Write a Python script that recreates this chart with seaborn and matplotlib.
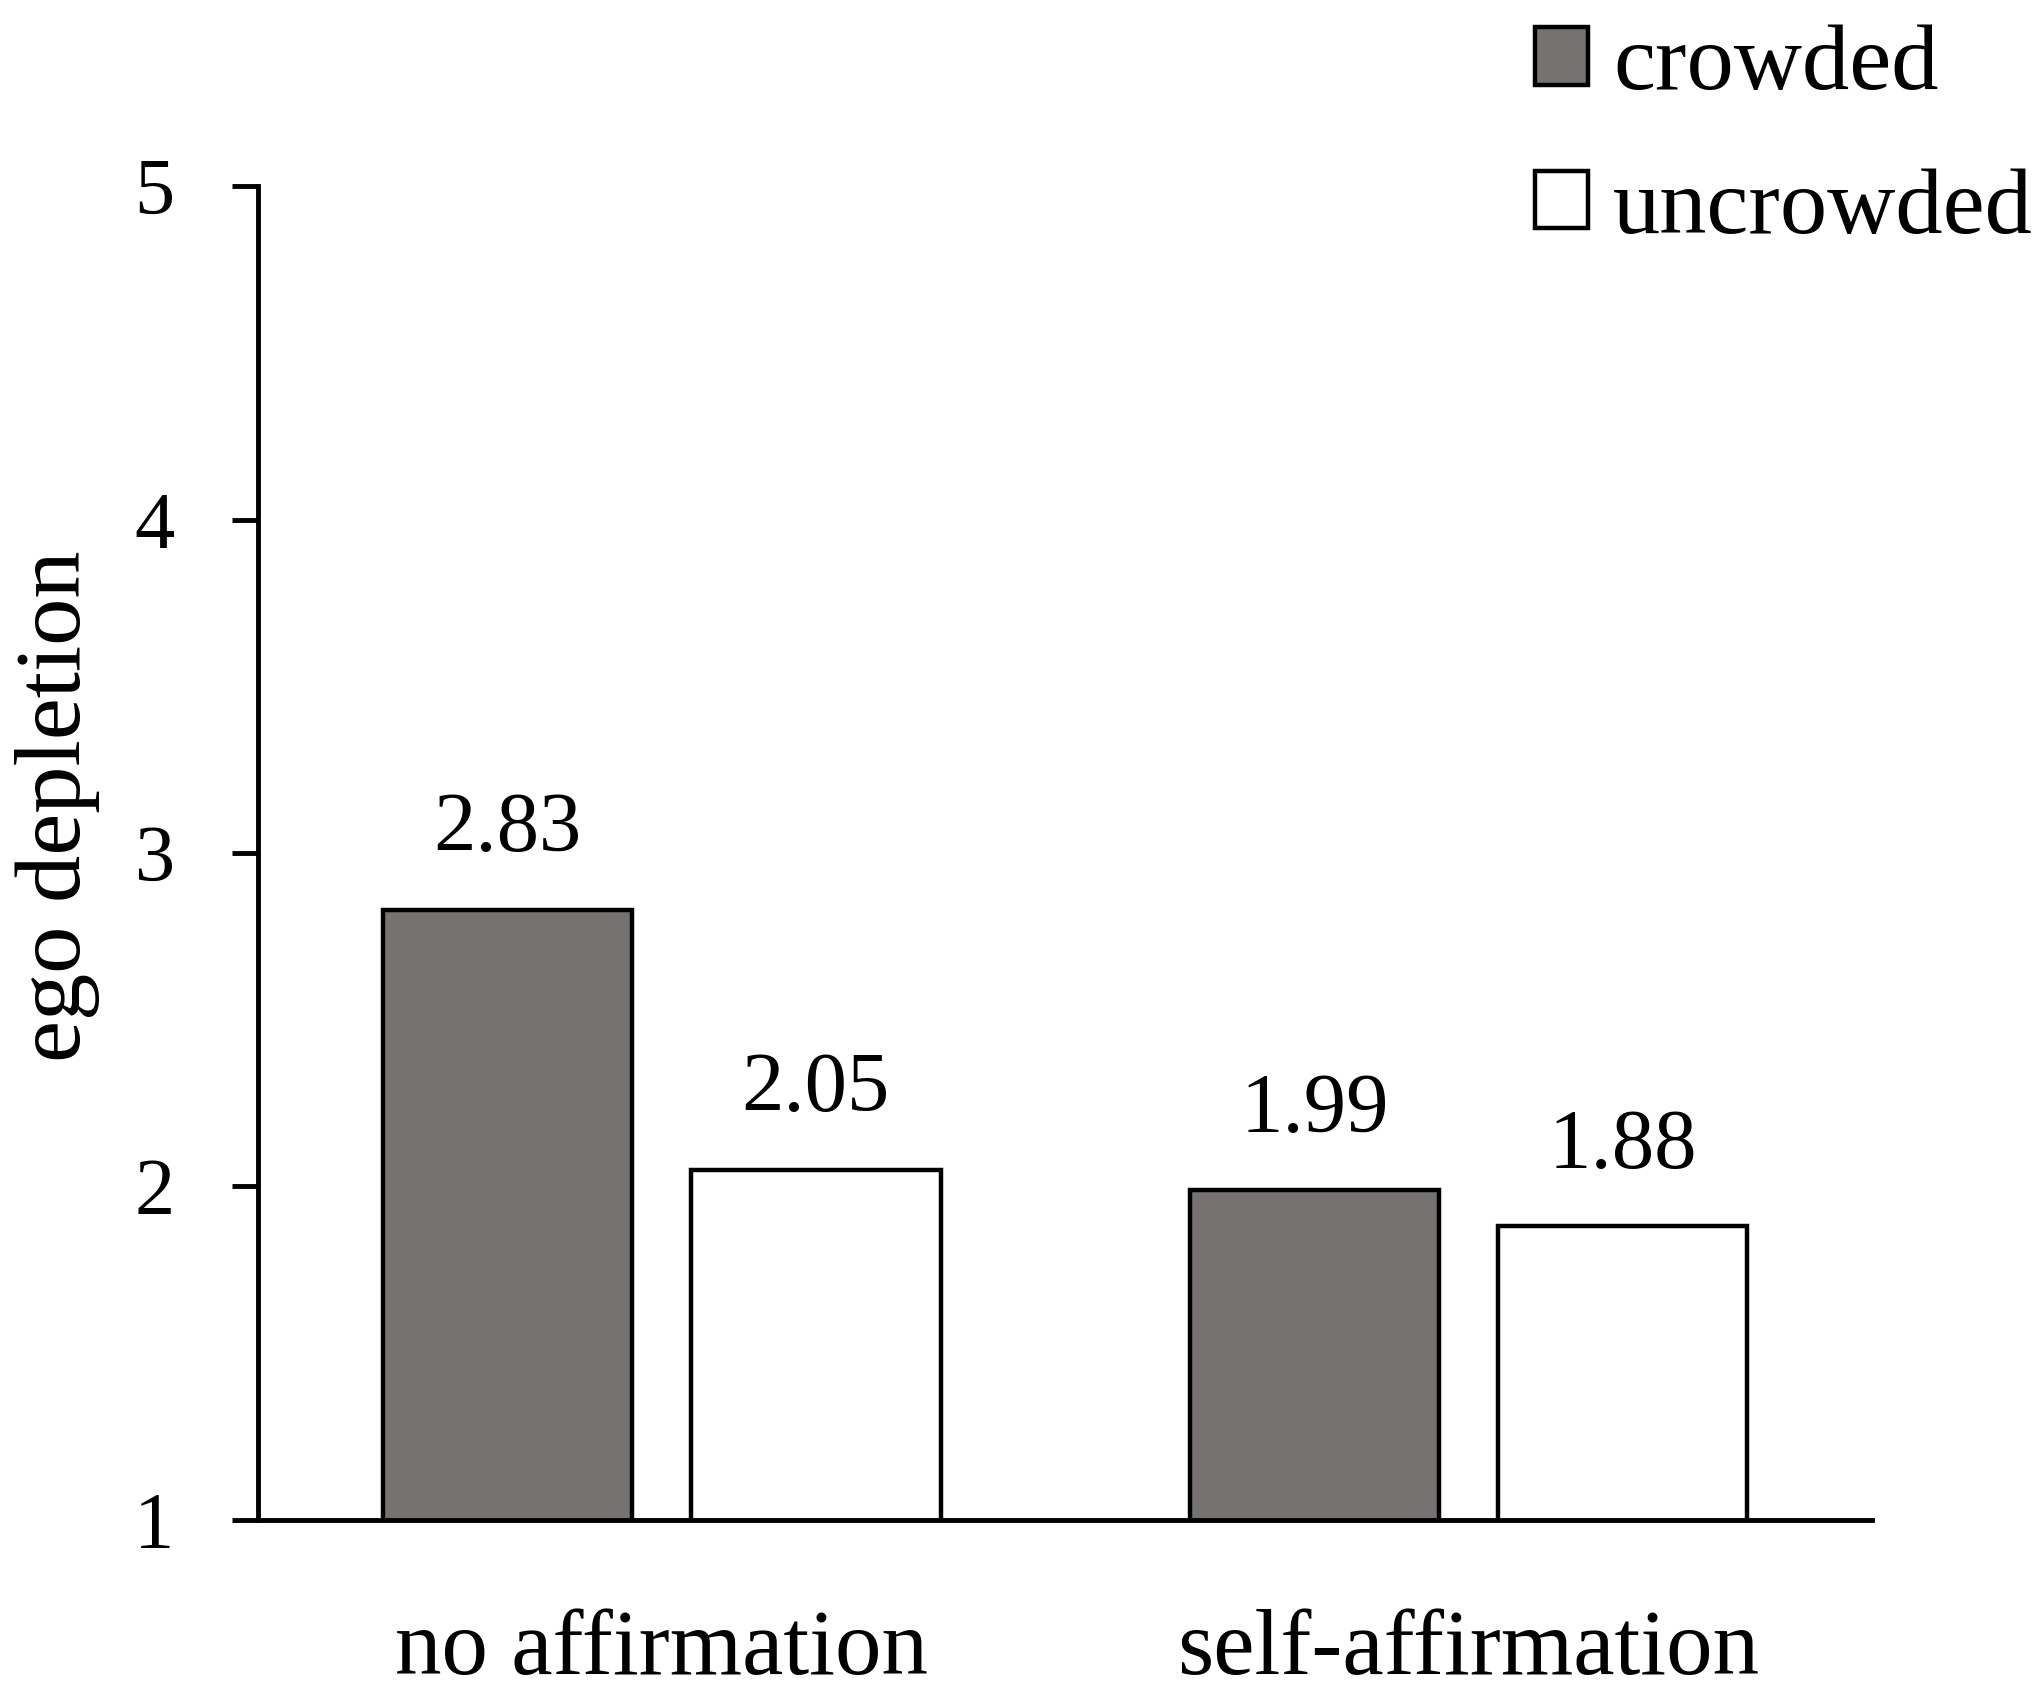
import pandas as pd
import matplotlib
matplotlib.use('Agg')
import matplotlib.pyplot as plt
import seaborn as sns

affirmation = ['no affirmation', 'no affirmation', 'self-affirmation', 'self-affirmation']
crowding = ['crowded', 'uncrowded', 'crowded', 'uncrowded']
depletion = [2.83, 2.05, 1.99, 1.88]
yticks = [1, 2, 3, 4, 5]

df = pd.DataFrame({'affirmation': affirmation, 'crowding': crowding, 'depletion': depletion})

sns.set_style('white')
plt.rcParams['font.family'] = ['Liberation Serif', 'DejaVu Serif']
for key in ['text.color', 'axes.labelcolor', 'xtick.color', 'ytick.color']:
    plt.rcParams[key] = 'black'

fig = plt.figure(figsize=(20.43, 17.07), dpi=100)
ax = fig.add_axes([0.1263, 0.1096, 0.79, 0.7814])

sns.barplot(
    data=df, x='affirmation', y='depletion', hue='crowding',
    palette=['#767270', 'white'], edgecolor='black', linewidth=3.2,
    width=0.764, gap=0.19, ax=ax,
)

for cont in ax.containers:
    ax.bar_label(cont, fmt='%.2f', padding=29, fontsize=61)

ax.set_ylim(1, 5)
ax.set_xlim(-0.5, 1.5)
ax.set_yticks(yticks)
ax.set_yticklabels([str(t) for t in yticks])
ax.tick_params(axis='y', direction='out', length=19, width=3.5, labelsize=58, pad=41, left=True)
ax.tick_params(axis='x', length=0, labelsize=67, pad=64)

sns.despine(ax=ax)
for side in ['left', 'bottom']:
    ax.spines[side].set_linewidth(3.5)
    ax.spines[side].set_color('black')

ax.set_xlabel('')
ax.set_ylabel('ego depletion', fontsize=68)
ax.yaxis.set_label_coords(-0.098, 0.535)

handles, labels = ax.get_legend_handles_labels()
ax.legend(
    handles, labels, loc='upper right', bbox_to_anchor=(1.002, 0.994),
    bbox_transform=fig.transFigure, frameon=False, fontsize=68,
    handlelength=0.56, handleheight=0.56, handletextpad=0.27, labelspacing=0.62,
    borderaxespad=0.0, borderpad=0.15,
)

fig.savefig('out.png', dpi=100)
